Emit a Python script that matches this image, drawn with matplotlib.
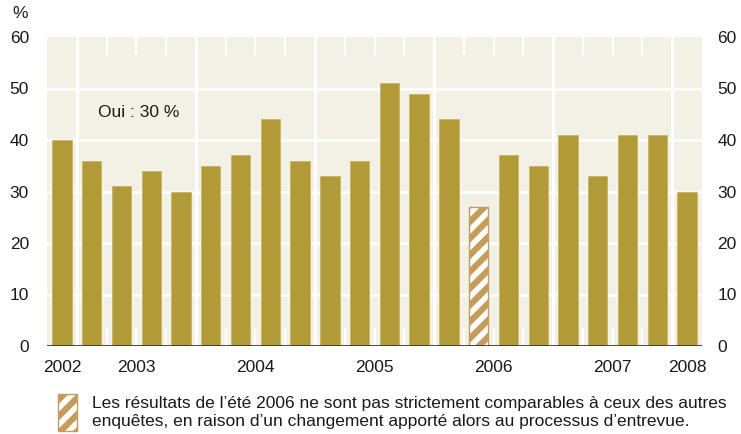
import matplotlib
matplotlib.use("Agg")
import matplotlib.pyplot as plt
from matplotlib.patches import Rectangle
import numpy as np

plt.rcParams['font.family'] = ['Liberation Sans', 'DejaVu Sans']
plt.rcParams['hatch.linewidth'] = 4.0

# Data
values = [40, 36, 31, 34, 30, 35, 37, 44, 36, 33, 36, 51, 49, 44, 27, 37, 35, 41, 33, 41, 41, 30]
hatched_index = 14
years = ['2002', '2003', '2004', '2005', '2006', '2007', '2008']
quarters_per_year = [1, 4, 4, 4, 4, 4, 1]
yticks = [0, 10, 20, 30, 40, 50, 60]
label_text = "Oui : 30 %"
note_text = ("Les résultats de l’été 2006 ne sont pas strictement comparables à ceux des autres\n"
             "enquêtes, en raison d’un changement apporté alors au processus d’entrevue.")

BAR = '#b29a37'
BAR_EDGE = '#c9b46a'
HATCH_BG = '#c39d5c'
BG = '#f3f1e5'
TXT = '#1a1a1a'
FS = 12.5

W, H = 741, 434
fig = plt.figure(figsize=(W / 100, H / 100), dpi=100)
ax = fig.add_axes([47 / W, (H - 346) / H, 655 / W, 309 / H])
ax.set_facecolor(BG)

n = len(values)
x = np.arange(n)
ax.set_xlim(-0.5, n - 0.5)
ax.set_ylim(0, 60)

# gridlines
for yv in yticks[1:-1]:
    ax.axhline(yv, color='white', lw=1.8, zorder=1)

# year boundaries & quarter ticks
bounds = np.cumsum(quarters_per_year)[:-1] - 0.5
for b in np.arange(0.5, n - 0.5, 1.0):
    if np.any(np.isclose(bounds, b)):
        ax.axvline(b, color='white', lw=2.2, zorder=1)
    else:
        ax.plot([b, b], [60, 60 - 18 / 5.15], color='white', lw=1.6, zorder=1, solid_capstyle='butt')
        ax.plot([b, b], [0, 18 / 5.15], color='white', lw=1.6, zorder=1, solid_capstyle='butt')

# bars
for i, v in enumerate(values):
    if i == hatched_index:
        ax.bar(x[i], v, width=0.65, color=HATCH_BG, edgecolor='white', linewidth=0,
               hatch='//', zorder=2)
        ax.bar(x[i], v, width=0.65, fill=False, edgecolor=HATCH_BG, linewidth=1.0, zorder=3)
    else:
        ax.bar(x[i], v, width=0.65, color=BAR, edgecolor=BAR_EDGE, linewidth=0.6, zorder=2)

# baseline
ax.axhline(0, color='#3a3a3a', lw=2.0, zorder=4)

for s in ax.spines.values():
    s.set_visible(False)

# year labels at centers of year blocks
starts = np.concatenate([[0], np.cumsum(quarters_per_year)[:-1]])
centers = starts + (np.array(quarters_per_year) - 1) / 2
ax.set_xticks(centers)
ax.set_xticklabels(years, fontsize=FS, color=TXT)
ax.tick_params(axis='x', length=0, pad=10)

ax.set_yticks(yticks)
ax.set_yticklabels([str(t) for t in yticks], fontsize=FS, color=TXT)
ax.tick_params(axis='y', length=0, pad=13)

sec = ax.secondary_yaxis('right')
sec.set_yticks(yticks)
sec.set_yticklabels([str(t) for t in yticks], fontsize=FS, color=TXT)
sec.tick_params(axis='y', length=0, pad=11)
for s in sec.spines.values():
    s.set_visible(False)

fig.text(20 / W, 1 - 14 / H, '%', fontsize=FS, color=TXT, ha='center', va='center')
fig.text(98 / W, 1 - 113 / H, label_text, fontsize=FS, color=TXT, ha='left', va='center')

# legend / note
fig.patches.append(Rectangle((58 / W, 1 - 431 / H), 19 / W, 37 / H, transform=fig.transFigure,
                             facecolor=HATCH_BG, edgecolor='white', linewidth=0, hatch='//'))
fig.patches.append(Rectangle((58 / W, 1 - 431 / H), 19 / W, 37 / H, transform=fig.transFigure,
                             fill=False, edgecolor=HATCH_BG, linewidth=1.0))
fig.text(92 / W, 1 - 412.5 / H, note_text, fontsize=FS, color=TXT, ha='left', va='center',
         linespacing=1.18)

fig.savefig('out.png', dpi=100)
